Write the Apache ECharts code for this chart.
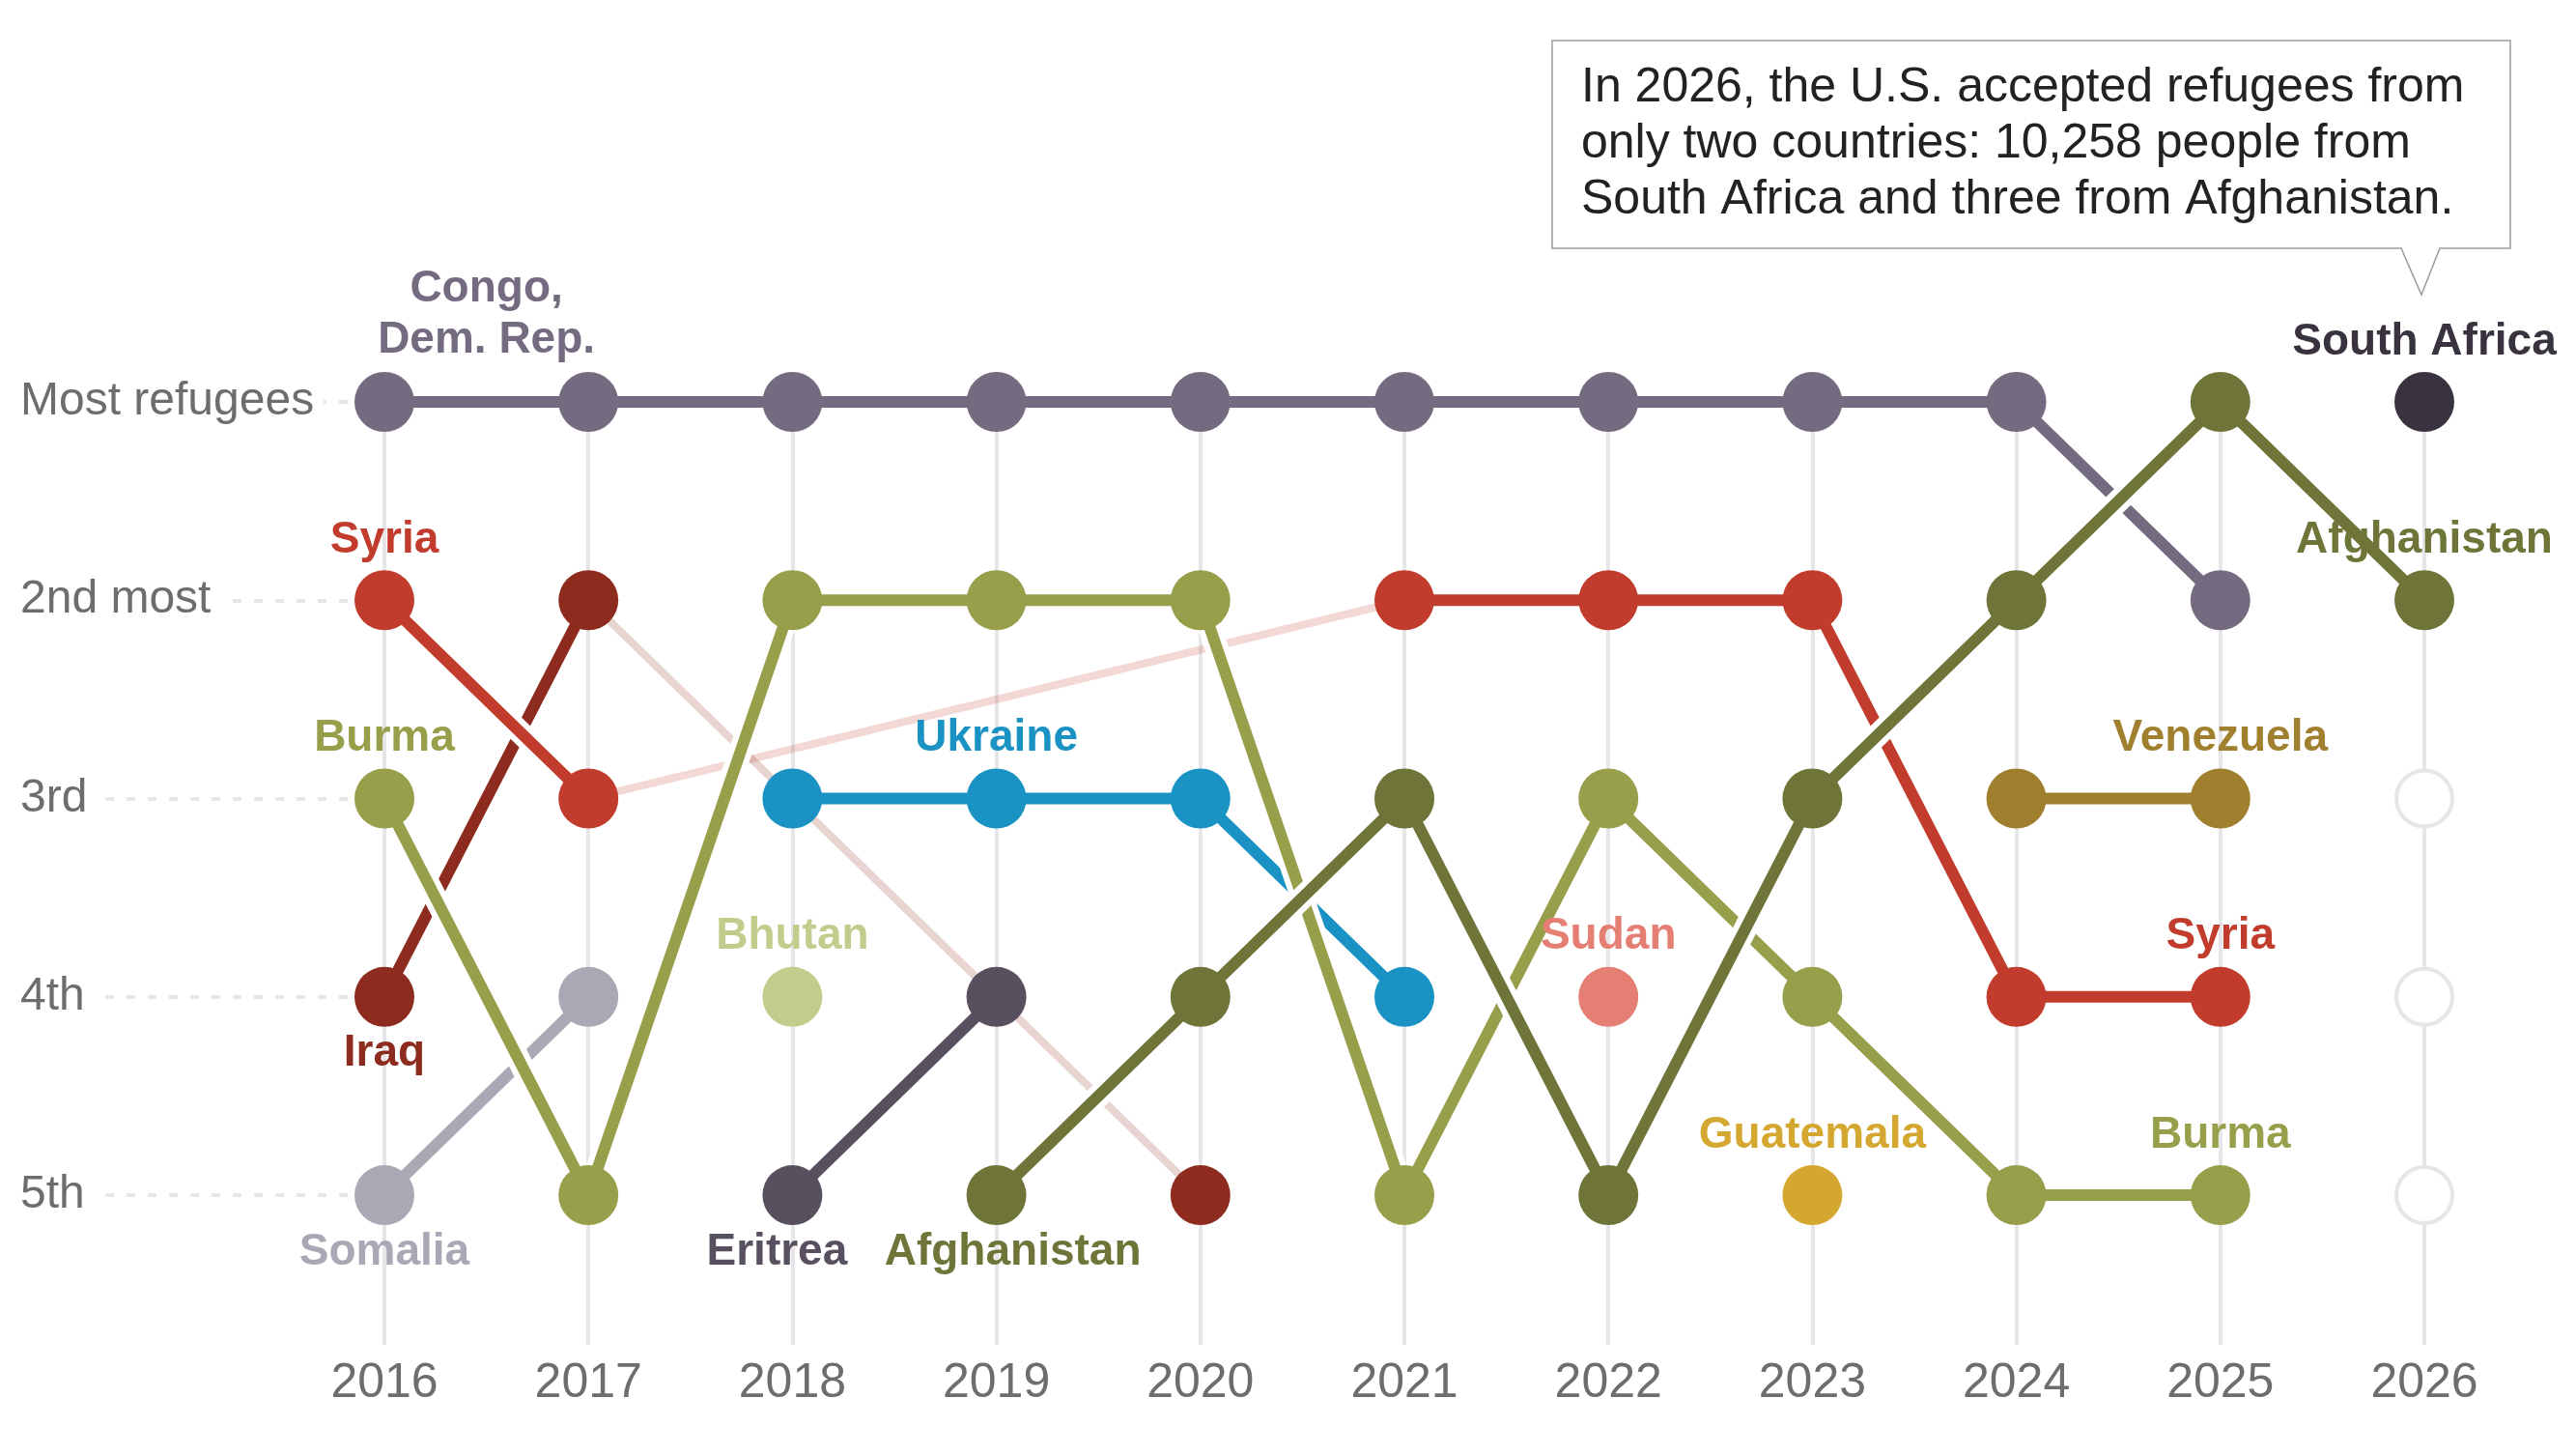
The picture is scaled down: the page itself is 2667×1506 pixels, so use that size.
<!DOCTYPE html>
<html>
<head>
    <meta charset="UTF-8">
    <title>Top origin countries of refugees admitted to the U.S.</title>
    <style>
        html, body {
            height: 100%;
            margin: 0;
            padding: 0;
            background: #fff;
        }
        #chart-container {
            width: 100%;
            height: 100%;
        }
    </style>
</head>
<body>
<div id="chart-container"></div>

<script src="https://cdn.jsdelivr.net/npm/echarts@6.0.0/dist/echarts.min.js"></script>
<script>
    // years on the x axis, rank names on the y axis
    const years = [2016, 2017, 2018, 2019, 2020, 2021, 2022, 2023, 2024, 2025, 2026];
    const rankLabels = ['Most refugees', '2nd most', '3rd', '4th', '5th'];

    // rank of each country per year (null = not in top five)
    const congo       = [1, 1, 1, 1, 1, 1, 1, 1, 1, 2, null];
    const syria       = [2, 3, null, null, null, 2, 2, 2, 4, 4, null];
    const iraq        = [4, 2, null, null, 5, null, null, null, null, null, null];
    const burma       = [3, 5, 2, 2, 2, 5, 3, 4, 5, 5, null];
    const somalia     = [5, 4, null, null, null, null, null, null, null, null, null];
    const bhutan      = [null, null, 4, null, null, null, null, null, null, null, null];
    const ukraine     = [null, null, 3, 3, 3, 4, null, null, null, null, null];
    const eritrea     = [null, null, 5, 4, null, null, null, null, null, null, null];
    const afghanistan = [null, null, null, 5, 4, 3, 5, 3, 2, 1, 2];
    const sudan       = [null, null, null, null, null, null, 4, null, null, null, null];
    const guatemala   = [null, null, null, null, null, null, null, 5, null, null, null];
    const venezuela   = [null, null, null, null, null, null, null, null, 3, 3, null];
    const southAfrica = [null, null, null, null, null, null, null, null, null, null, 1];

    // slots left empty in 2026 (only two countries)
    const emptyRanks2026 = [3, 4, 5];

    // country labels: text, year, rank, side
    const labelTexts = ['Congo,\nDem. Rep.', 'Syria', 'Burma', 'Iraq', 'Somalia', 'Bhutan', 'Ukraine',
        'Eritrea', 'Afghanistan', 'Sudan', 'Guatemala', 'Venezuela', 'Syria', 'Burma', 'South Africa', 'Afghanistan'];
    const labelYears = [2016.5, 2016, 2016, 2016, 2016, 2018, 2019, 2018, 2019, 2022, 2023, 2025, 2025, 2025, 2026, 2026];
    const labelRanks = [1, 2, 3, 4, 5, 4, 3, 5, 5, 4, 5, 3, 4, 5, 1, 2];
    const labelSides = ['above', 'above', 'above', 'below', 'below', 'above', 'above',
        'below', 'below', 'above', 'above', 'above', 'above', 'above', 'above', 'above'];

    const note = 'In 2026, the U.S. accepted refugees from\nonly two countries: 10,258 people from\nSouth Africa and three from Afghanistan.';

    const colors = {
        congo: '#756b80', syria: '#c13c2c', iraq: '#8e2b1f', burma: '#979f4b',
        somalia: '#aca7b4', bhutan: '#c4cc8d', ukraine: '#1a93c4', eritrea: '#59505f',
        afghanistan: '#6f7539', sudan: '#e57f74', guatemala: '#d4a830', venezuela: '#a07f2f',
        southAfrica: '#39333f'
    };
    const countries = {
        congo, syria, iraq, burma, somalia, bhutan, ukraine, eritrea,
        afghanistan, sudan, guatemala, venezuela, southAfrica
    };
    const labelColor = {
        'Congo,\nDem. Rep.': colors.congo, 'Syria': colors.syria, 'Burma': colors.burma,
        'Iraq': colors.iraq, 'Somalia': colors.somalia, 'Bhutan': colors.bhutan,
        'Ukraine': colors.ukraine, 'Eritrea': colors.eritrea, 'Afghanistan': colors.afghanistan,
        'Sudan': colors.sudan, 'Guatemala': colors.guatemala, 'Venezuela': colors.venezuela,
        'South Africa': colors.southAfrica
    };
    // bottom -> top, so the upper line cuts a white gap in the lower one
    const lineOrder = ['ukraine', 'iraq', 'somalia', 'syria', 'congo', 'eritrea', 'burma', 'afghanistan', 'venezuela'];

    const FONT = '"Liberation Sans", Arial, sans-serif';
    const Y_MAX = 5.755;

    const series = [];

    // faded links across years a country dropped out of the top five
    Object.keys(countries).forEach(function (key) {
        const r = countries[key];
        let last = -1;
        r.forEach(function (v, i) {
            if (v == null) return;
            if (last >= 0 && i - last > 1) {
                series.push({
                    type: 'line', silent: true, symbol: 'none', z: 1,
                    data: [[years[last], r[last]], [years[i], v]],
                    lineStyle: { color: colors[key], width: 8, opacity: 0.2 }
                });
            }
            last = i;
        });
    });

    // solid lines with white halo
    lineOrder.forEach(function (key) {
        const data = years.map(function (y, i) {
            return [y, countries[key][i] == null ? '-' : countries[key][i]];
        });
        series.push({
            type: 'line', silent: true, symbol: 'none', z: 2, data: data,
            lineStyle: { color: '#fff', width: 24 }
        });
        series.push({
            type: 'line', silent: true, symbol: 'none', z: 2, data: data,
            lineStyle: { color: colors[key], width: 12 }
        });
    });

    // dots
    Object.keys(countries).forEach(function (key) {
        const data = [];
        countries[key].forEach(function (v, i) {
            if (v != null) data.push([years[i], v]);
        });
        series.push({
            type: 'scatter', silent: true, z: 3, symbolSize: 62, data: data,
            itemStyle: { color: colors[key], opacity: 1 }
        });
    });
    series.push({
        type: 'scatter', silent: true, z: 3, symbolSize: 58,
        data: emptyRanks2026.map(function (r) { return [2026, r]; }),
        itemStyle: { color: '#fff', borderColor: '#e6e6e6', borderWidth: 4, opacity: 1 }
    });

    // country labels
    series.push({
        type: 'scatter', silent: true, z: 4, symbolSize: 0,
        itemStyle: { opacity: 1 },
        data: labelTexts.map(function (t, i) {
            let dy = labelSides[i] === 'below' ? 59 : -62;
            if (t.indexOf('\n') >= 0) dy = -90;
            let dx = 0;
            if (t === 'Eritrea') dx = -16;
            if (t === 'Afghanistan' && labelSides[i] === 'below') dx = 17;
            return {
                value: [labelYears[i], labelRanks[i]],
                label: {
                    show: true, position: 'inside', formatter: t, offset: [dx, dy],
                    color: labelColor[t], opacity: 1, textBorderWidth: 0, textBorderColor: 'transparent',
                    fontFamily: FONT, fontWeight: 'bold',
                    fontSize: 46, lineHeight: 53, align: 'center'
                }
            };
        })
    });

    const chart = echarts.init(document.getElementById('chart-container'));
    window.addEventListener('resize', function () {
        chart.resize();
    });

    const option = {
        animation: false,
        backgroundColor: '#fff',
        grid: [
            { left: 398, right: 157, top: 416, bottom: 114 },
            { left: 21, width: 377, top: 416, height: 821 }
        ],
        xAxis: [{
            gridIndex: 0, type: 'value', min: 2016, max: 2026, interval: 1,
            axisLine: { show: false }, axisTick: { show: false },
            splitLine: { show: true, lineStyle: { color: '#e6e6e8', width: 4 } },
            axisLabel: {
                margin: 15, color: '#6d6d6d', fontSize: 50, fontFamily: FONT,
                formatter: function (v) { return String(v); }
            }
        }, {
            gridIndex: 1, type: 'value', min: 0, max: 1, show: false
        }],
        yAxis: [{
            gridIndex: 0, type: 'value', inverse: true, min: 1, max: Y_MAX, interval: 1, show: false
        }, {
            gridIndex: 1, type: 'value', inverse: true, min: 1, max: 5, interval: 1,
            axisLine: { show: false }, axisTick: { show: false },
            splitLine: { show: true, lineStyle: { color: '#e6e6e6', width: 4, type: [9, 13] } },
            axisLabel: {
                inside: true, margin: 0, color: '#6d6d6d', fontSize: 48, fontFamily: FONT,
                backgroundColor: '#fff', padding: [0, 10, 0, 0],
                formatter: function (v) {
                    return Number.isInteger(v) && v >= 1 && v <= 5 ? rankLabels[v - 1] : '';
                }
            }
        }],
        graphic: [{
            type: 'polygon', silent: true, z: 10,
            shape: { points: [[1607, 42], [2599, 42], [2599, 257], [2526, 257], [2507, 305], [2486, 257], [1607, 257]] },
            style: { fill: '#fff', stroke: '#9a9a9a', lineWidth: 1.5 }
        }, {
            type: 'text', silent: true, z: 11, x: 1637, y: 62,
            style: {
                text: note, fill: '#222', fontSize: 50, fontFamily: FONT,
                lineHeight: 58, verticalAlign: 'top'
            }
        }],
        series: series
    };

    chart.setOption(option);
</script>
</body>
</html>
